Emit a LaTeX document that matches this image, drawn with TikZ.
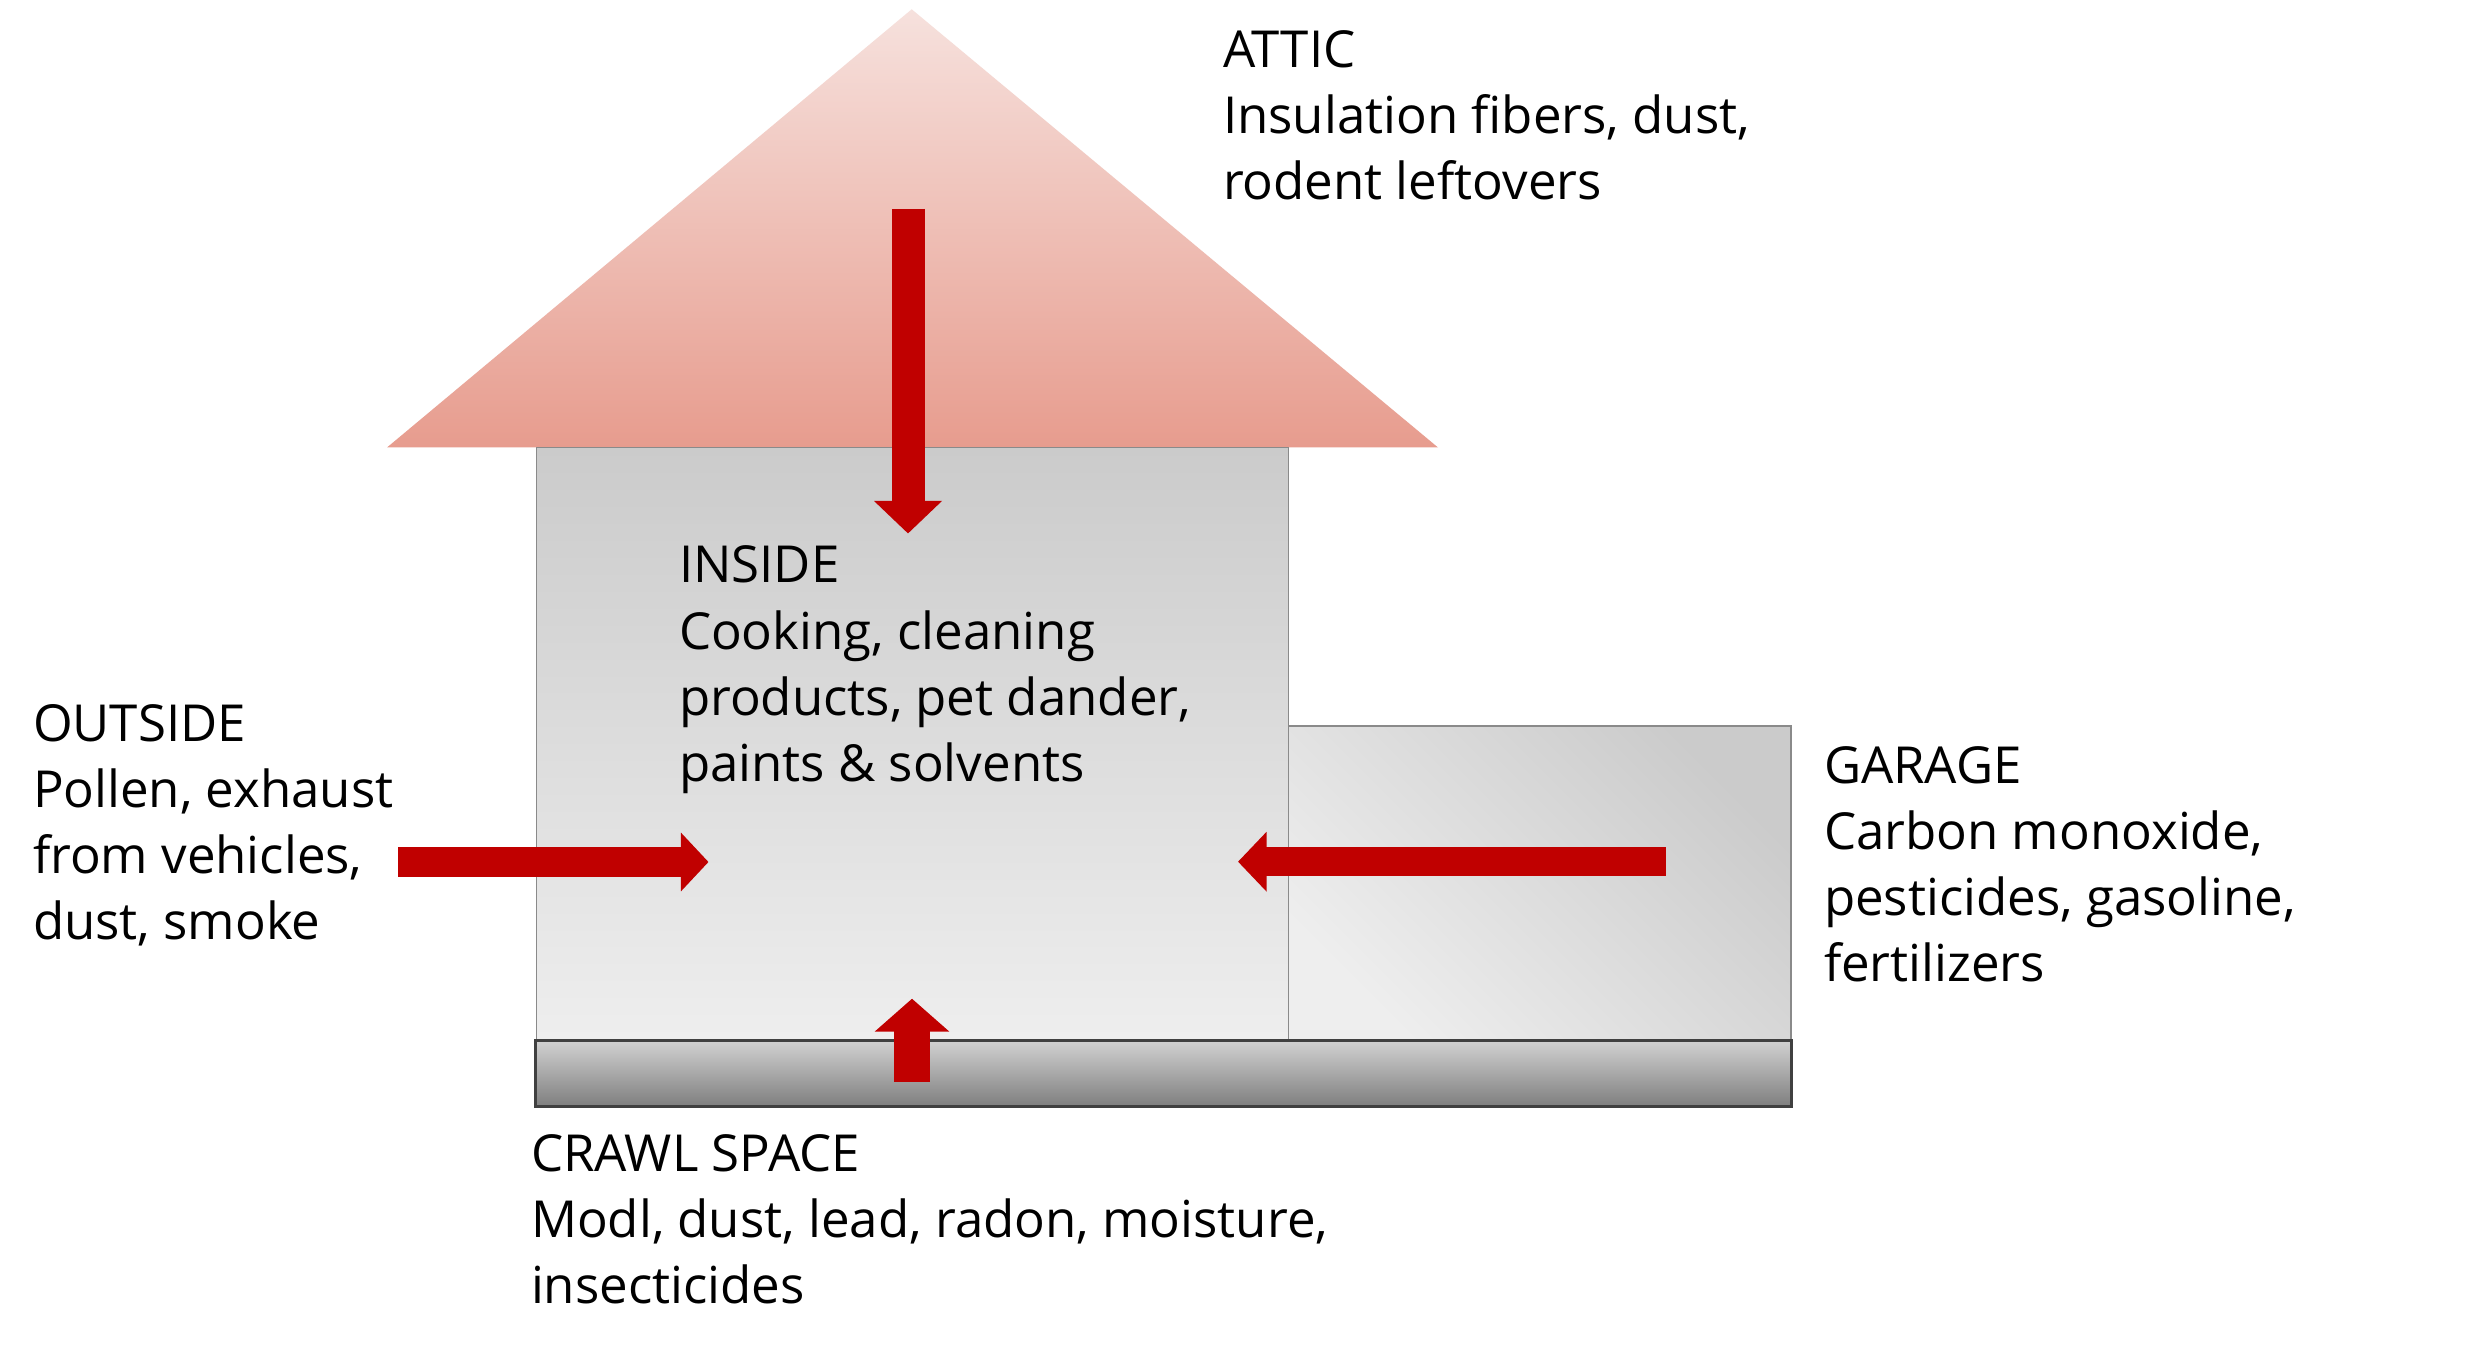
\documentclass[tikz,border=0pt]{standalone}
\usepackage{fontspec}
\setmainfont{Open Sans}
\usetikzlibrary{arrows.meta}
\definecolor{arrowred}{HTML}{C00000}
\definecolor{roofTop}{HTML}{F6E1DD}
\definecolor{roofBot}{HTML}{E79C8E}
\definecolor{boxTop}{HTML}{CBCBCB}
\definecolor{boxBot}{HTML}{EEEEEE}
\definecolor{fndTop}{HTML}{D2D2D2}
\definecolor{fndBot}{HTML}{7F7F7F}
\definecolor{fndLine}{HTML}{404040}
\definecolor{boxLine}{HTML}{8A8A8A}
\begin{document}
\begin{tikzpicture}[x=0.01cm,y=0.01cm,
  lbl/.style={anchor=base west, inner sep=0pt, outer sep=0pt, align=left,
    font=\fontsize{14.5pt}{18.78pt}\selectfont},
  blockarrow/.style={draw=arrowred, line width=#1},
  wallbox/.style={top color=boxTop, bottom color=boxBot, draw=boxLine, line width=0.012cm}]
\useasboundingbox (0,0) rectangle (2488,1354);
\fill[white] (0,0) rectangle (2488,1354);
% roof
\shade[top color=roofTop, bottom color=roofBot] (387,906.5) -- (911.7,1344.7) -- (1438,906.5) -- cycle;
% main box
\shadedraw[wallbox] (536.5,314) rectangle (1288.5,906.5);
% garage
\shadedraw[top color=boxTop, bottom color=boxBot, shading angle=-45, draw=boxLine, line width=0.012cm] (1288.5,314) rectangle (1791,628);
% foundation
\shadedraw[top color=fndTop, bottom color=fndBot, draw=fndLine, line width=0.03cm] (535,248) rectangle (1791,314);
% arrow endpoints
\coordinate (atticS) at (908,1145);
\coordinate (atticT) at (908,820.5);
\coordinate (crawlS) at (912,272.3);
\coordinate (crawlT) at (912,355.3);
\coordinate (outS) at (398.4,492);
\coordinate (outT) at (708.5,492);
\coordinate (garS) at (1665.7,492.3);
\coordinate (garT) at (1238,492.3);
\draw[blockarrow=0.33cm, -{Triangle[width=0.66cm,length=0.325cm]}] (atticS) -- (atticT);
\draw[blockarrow=0.36cm, -{Triangle[width=0.73cm,length=0.33cm]}] (crawlS) -- (crawlT);
\draw[blockarrow=0.29cm, -{Triangle[width=0.57cm,length=0.275cm]}] (outS) -- (outT);
\draw[blockarrow=0.29cm, -{Triangle[width=0.58cm,length=0.285cm]}] (garS) -- (garT);
% labels (anchored at the baseline of their last line)
\node[lbl] (attic) at (1223,1154) {ATTIC\\Insulation fibers, dust,\\rodent leftovers};
\node[lbl] (inside) at (679,572.9) {INSIDE\\Cooking, cleaning\\products, pet dander,\\paints \& solvents};
\node[lbl] (outside) at (33,414.7) {OUTSIDE\\Pollen, exhaust\\from vehicles,\\dust, smoke};
\node[lbl] (garage) at (1824,372.3) {GARAGE\\Carbon monoxide,\\pesticides, gasoline,\\fertilizers};
\node[lbl] (crawl) at (531,50.7) {CRAWL SPACE\\Modl, dust, lead, radon, moisture,\\insecticides};
\end{tikzpicture}
\end{document}
